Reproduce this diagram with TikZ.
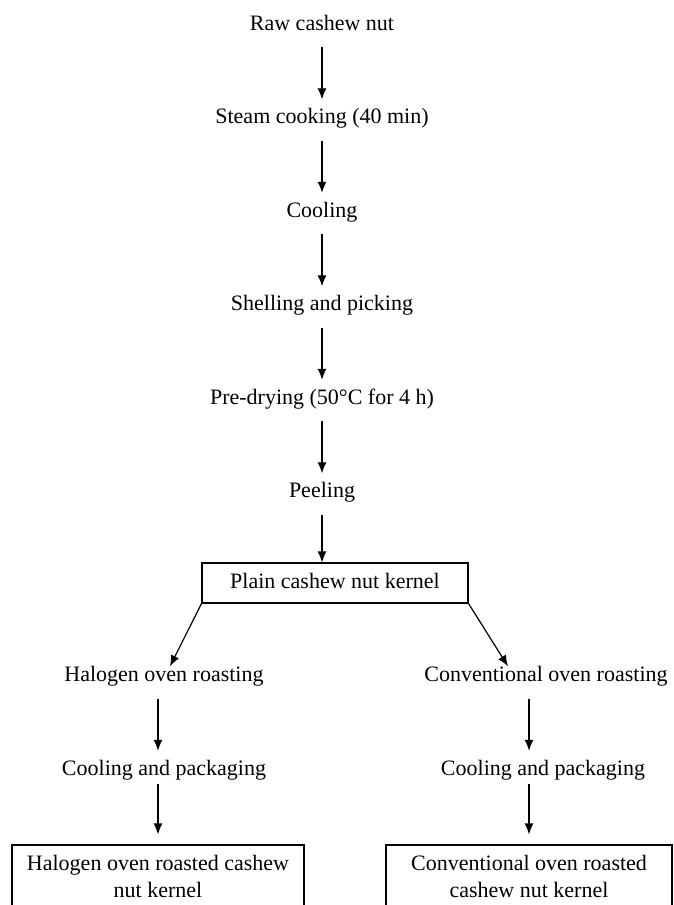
\documentclass[tikz,border=0pt]{standalone}
\usepackage{fontspec}
\setmainfont{Liberation Serif}
\usepackage{tikz}
\usetikzlibrary{arrows.meta,positioning}
\newcommand{\stagefont}{\fontsize{22}{27}\selectfont}
\tikzstyle{stage} = [text height=15pt, text depth=5pt, inner sep=0pt, font=\stagefont]
\tikzstyle{block} = [rectangle, draw, align=center, font=\stagefont, line width=1.1pt]
\tikzstyle{line} = [draw, -{Latex[length=11pt, width=9pt]}, line width=1.2pt]
\tikzstyle{spaced} = [shorten <=12pt, shorten >=9pt]

\begin{document}
\begin{tikzpicture}[x=1pt, y=-1pt, node distance=93.5pt]
    \useasboundingbox (0,0) rectangle (674,905);
    % Nodes
    \node [stage] (raw) at (322,25) {Raw cashew nut};
    \node [stage, below of=raw] (steam) {Steam cooking (40 min)};
    \node [stage, below of=steam] (cooling) {Cooling};
    \node [stage, below of=cooling] (shelling) {Shelling and picking};
    \node [stage, below of=shelling] (predrying) {Pre-drying (50°C for 4 h)};
    \node [stage, below of=predrying] (peeling) {Peeling};
    \node [block, below of=peeling, xshift=13pt, yshift=3pt, minimum width=266pt, minimum height=40pt, text height=15pt, text depth=5pt] (plain) {Plain cashew nut kernel};

    \node [stage, below of=plain, xshift=-171pt] (halogen) {Halogen oven roasting};
    \node [stage, below of=plain, xshift=211pt] (conventional) {Conventional oven roasting};
    \node [stage, below of=halogen] (halogen_pack) {Cooling and packaging};
    \node [stage, below of=conventional, xshift=-3pt] (conventional_pack) {Cooling and packaging};
    \node [block, below of=halogen_pack, xshift=-6pt, yshift=-13pt, minimum width=292pt, minimum height=63pt] (halogen_kernel) {Halogen oven roasted cashew\\ nut kernel};
    \node [block, below of=conventional_pack, xshift=-14pt, yshift=-13pt, minimum width=286pt, minimum height=63pt] (conventional_kernel) {Conventional oven roasted\\ cashew nut kernel};

    % arrows
    \draw [line, spaced] (raw) -- (steam);
    \draw [line, spaced] (steam) -- (cooling);
    \draw [line, spaced] (cooling) -- (shelling);
    \draw [line, spaced] (shelling) -- (predrying);
    \draw [line, spaced] (predrying) -- (peeling);
    \draw [line, shorten <=12pt] (peeling) -- (peeling |- plain.north);

    \draw [line] (plain.south west) -- ([xshift=6pt]halogen.north);
    \draw [line] (plain.south east) -- ([xshift=-38pt]conventional.north);

    \draw [line, spaced] (halogen.south -| halogen_kernel) -- (halogen_pack.north -| halogen_kernel);
    \draw [line, shorten <=4pt, shorten >=10pt] (halogen_pack.south -| halogen_kernel) -- (halogen_kernel);
    \draw [line, spaced] (conventional.south -| conventional_kernel) -- (conventional_pack.north -| conventional_kernel);
    \draw [line, shorten <=4pt, shorten >=10pt] (conventional_pack.south -| conventional_kernel) -- (conventional_kernel);
\end{tikzpicture}
\end{document}
